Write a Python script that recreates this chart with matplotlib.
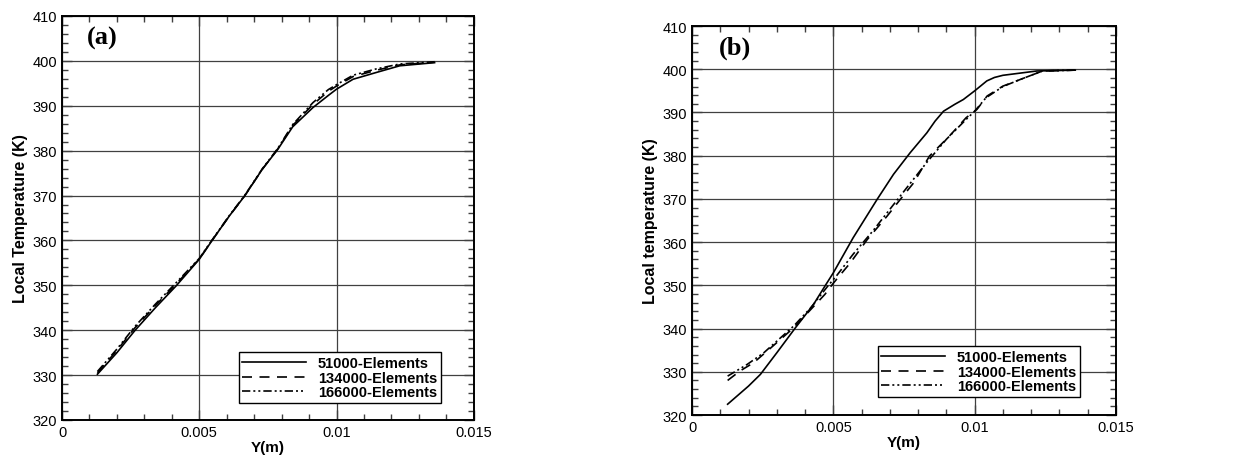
import matplotlib.pyplot as plt
from matplotlib.ticker import MultipleLocator, FuncFormatter

plt.rcParams['font.family'] = ['Liberation Sans', 'DejaVu Sans']

labels = ['51000-Elements', '134000-Elements', '166000-Elements']

# panel (a)
a_y51 = [0.00129, 0.002, 0.00265, 0.0034, 0.00416, 0.005, 0.0055, 0.0061, 0.00665,
         0.0073, 0.00786, 0.0084, 0.00914, 0.0097, 0.01, 0.0106, 0.01144, 0.0123, 0.01357]
a_t51 = [330.2, 335.0, 339.9, 345.0, 349.9, 355.8, 360.3, 365.5, 369.9,
         375.9, 380.3, 385.3, 389.6, 392.3, 393.7, 395.9, 397.4, 398.9, 399.6]
a_y134 = [0.00129, 0.002, 0.00265, 0.0034, 0.00416, 0.005, 0.0055, 0.0061, 0.00665,
          0.0073, 0.00786, 0.0084, 0.00914, 0.0097, 0.01, 0.0106, 0.01144, 0.0123, 0.01357]
a_t134 = [330.5, 335.5, 340.5, 345.5, 350.3, 355.9, 360.3, 365.5, 369.9,
          375.9, 380.4, 385.6, 390.3, 393.2, 394.4, 396.5, 397.9, 399.1, 399.7]
a_y166 = [0.00129, 0.002, 0.00265, 0.0034, 0.00416, 0.005, 0.0055, 0.0061, 0.00665,
          0.0073, 0.00786, 0.0084, 0.00914, 0.0097, 0.01, 0.0106, 0.01144, 0.0123, 0.01357]
a_t166 = [330.8, 335.8, 340.8, 345.8, 350.6, 356.0, 360.4, 365.6, 370.0,
          376.0, 380.5, 385.8, 390.7, 393.6, 394.7, 396.8, 398.2, 399.3, 399.8]

# panel (b)
b_y51 = [0.00126, 0.002, 0.00242, 0.003, 0.00366, 0.0043, 0.0047, 0.005, 0.0057,
         0.00655, 0.00713, 0.00772, 0.00831, 0.0086, 0.0089, 0.0093, 0.0096, 0.01,
         0.01043, 0.0107, 0.011, 0.0122, 0.01356]
b_t51 = [322.5, 326.7, 329.4, 334.4, 340.2, 345.6, 349.8, 352.9, 361.0,
         369.9, 375.7, 380.7, 385.3, 388.0, 390.3, 391.9, 393.0, 395.0,
         397.3, 398.1, 398.6, 399.6, 399.8]
b_y134 = [0.00126, 0.0017, 0.00218, 0.0028, 0.0036, 0.0042, 0.0047, 0.005, 0.0056,
          0.0062, 0.0069, 0.00737, 0.00784, 0.0084, 0.0091, 0.0097, 0.01008, 0.01044,
          0.011, 0.0116, 0.0124, 0.01356]
b_t134 = [328.0, 330.2, 332.1, 335.6, 340.2, 344.4, 347.9, 350.5, 355.2,
          360.6, 366.0, 369.9, 373.7, 379.9, 384.5, 388.8, 390.7, 393.8,
          396.1, 397.6, 399.6, 399.8]
b_y166 = [0.00126, 0.00195, 0.00254, 0.0036, 0.0042, 0.0048, 0.0051, 0.0057, 0.0064,
          0.007, 0.0076, 0.0083, 0.009, 0.0097, 0.01, 0.0104, 0.011, 0.0116,
          0.0124, 0.01356]
b_t166 = [329.0, 331.7, 334.4, 340.6, 344.8, 349.8, 352.1, 357.2, 362.6,
          367.6, 372.6, 378.4, 383.8, 388.4, 390.3, 393.4, 396.0, 397.6,
          399.6, 399.8]

styles = [dict(ls='-'), dict(ls=(0, (6, 4.5))), dict(ls=(0, (5, 1.8, 1.2, 1.8, 1.2, 1.8)))]


def style_axes(ax, ylabel, tag, tagpos):
    ax.set_xlim(0, 0.015)
    ax.set_ylim(320, 410)
    ax.xaxis.set_major_locator(MultipleLocator(0.005))
    ax.xaxis.set_minor_locator(MultipleLocator(0.001))
    ax.yaxis.set_major_locator(MultipleLocator(10))
    ax.yaxis.set_minor_locator(MultipleLocator(2))
    ax.xaxis.set_major_formatter(FuncFormatter(lambda v, p: '%g' % round(v, 4)))
    ax.tick_params(which='both', direction='in', top=True, right=True,
                   labelsize=10.5, width=1, color='0.25')
    ax.tick_params(which='major', length=7)
    ax.tick_params(which='minor', length=4)
    ax.grid(True, which='major', color='0.25', lw=0.9)
    for s in ax.spines.values():
        s.set_linewidth(1.4)
    ax.set_xlabel('Y(m)', fontsize=11, fontweight='bold', labelpad=1)
    ax.set_ylabel(ylabel, fontsize=11.5, fontweight='bold', labelpad=3)
    ax.text(tagpos[0], tagpos[1], tag, transform=ax.transAxes, fontsize=19,
            fontweight='bold', family='Liberation Serif', va='top')


fig = plt.figure(figsize=(12.48, 4.56), dpi=100)
ax1 = fig.add_axes([0.0497, 0.0768, 0.330, 0.886])
ax2 = fig.add_axes([0.5545, 0.0877, 0.3397, 0.853])

for ax, data in [(ax1, [(a_y51, a_t51), (a_y134, a_t134), (a_y166, a_t166)]),
                 (ax2, [(b_y51, b_t51), (b_y134, b_t134), (b_y166, b_t166)])]:
    for (x, y), st, lab in zip(data, styles, labels):
        ax.plot(x, y, color='black', lw=1.2, label=lab, **st)

style_axes(ax1, 'Local Temperature (K)', '(a)', (0.06, 0.975))
style_axes(ax2, 'Local temperature (K)', '(b)', (0.064, 0.975))

for ax, anchor in [(ax1, (0.92, 0.042)), (ax2, (0.915, 0.046))]:
    leg = ax.legend(loc='lower right', bbox_to_anchor=anchor, fancybox=False,
                    framealpha=1, edgecolor='black', handlelength=4.4,
                    borderpad=0.25, labelspacing=0.05, handletextpad=0.8,
                    borderaxespad=0, prop={'weight': 'bold', 'size': 10.5})
    leg.get_frame().set_linewidth(1.0)

fig.savefig('out.png', dpi=100)
